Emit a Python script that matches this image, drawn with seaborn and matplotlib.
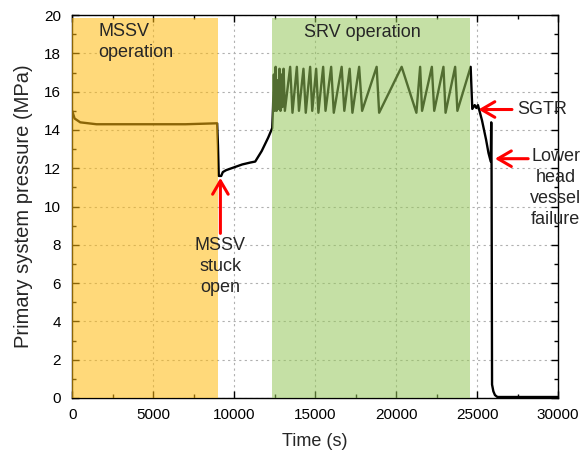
import numpy as np
import pandas as pd
import seaborn as sns
import matplotlib.pyplot as plt
from matplotlib.ticker import MultipleLocator

# Time (s) and primary system pressure (MPa)
time_s = [0, 150, 500, 1500, 5000, 7000, 8950, 9000, 9050, 9200, 9300, 9500,
          10000, 10500, 11000, 11300, 11700, 12100, 12350,
          # dense SRV cycling
          12400, 12450, 12500, 12560, 12620, 12680, 12740, 12800, 12860,
          12920, 12980, 13050, 13130,
          # SRV saw-tooth (peak, trough pairs)
          13457, 13600, 13870, 14000, 14278, 14420, 14691, 14820, 15062, 15200,
          15494, 15640, 15988, 16150, 16636, 16800, 17130, 17300, 17716, 17900,
          18796, 18950, 20340, 21250, 21481, 21600, 22204, 22350, 22920, 23050,
          23642, 23780, 24599,
          # after SRV: SGTR and vessel failure
          24700, 24850, 24950, 25050, 25300, 25550, 25700, 25840, 25870,
          25890, 25920, 26000, 26100, 26250, 30000]
pressure_mpa = [15.0, 14.6, 14.4, 14.3, 14.3, 14.3, 14.35, 13.2, 11.6, 11.6,
                11.8, 11.9, 12.05, 12.2, 12.3, 12.35, 12.9, 13.6, 14.1,
                15.2, 16.9, 15.0, 17.3, 15.0, 16.6, 15.1, 17.2, 15.0,
                16.9, 15.2, 17.2, 15.0,
                17.3, 14.9, 17.3, 15.0, 17.2, 14.9, 17.3, 15.0, 17.2, 14.9,
                17.3, 15.0, 17.3, 14.9, 17.3, 15.0, 17.2, 14.9, 17.3, 15.0,
                17.3, 14.9, 17.3, 14.9, 17.3, 15.0, 17.3, 15.0, 17.3, 14.9,
                17.3, 15.0, 17.3,
                15.1, 15.3, 15.15, 15.3, 14.5, 13.5, 12.8, 12.35, 14.4,
                12.0, 0.7, 0.35, 0.15, 0.05, 0.05]

df = pd.DataFrame({'Time (s)': time_s, 'Pressure (MPa)': pressure_mpa})

sns.set_style('ticks')
plt.rcParams['font.family'] = ['Liberation Sans', 'DejaVu Sans']

fig = plt.figure(figsize=(5.82, 4.59), dpi=100)
ax = fig.add_axes([0.124, 0.133, 0.835, 0.834])

sns.lineplot(data=df, x='Time (s)', y='Pressure (MPa)', color='black',
             linewidth=1.7, estimator=None, sort=False, ax=ax, zorder=2)

# operation bands drawn over the line so it shows through tinted
ax.axvspan(0, 9000, ymax=0.992, color='#FFBA0D', alpha=0.55, lw=0, zorder=3)
ax.axvspan(12350, 24550, ymax=0.992, color='#96C75B', alpha=0.55, lw=0, zorder=3)

ax.set_xlim(0, 30000)
ax.set_ylim(0, 20)
ax.xaxis.set_major_locator(MultipleLocator(5000))
ax.xaxis.set_minor_locator(MultipleLocator(2500))
ax.yaxis.set_major_locator(MultipleLocator(2))
ax.yaxis.set_minor_locator(MultipleLocator(1))
ax.tick_params(which='both', direction='in', top=True, right=True,
               labelsize=11, colors='black')
ax.tick_params(which='major', length=5, width=1)
ax.tick_params(which='minor', length=3, width=1)
ax.tick_params(axis='y', pad=8)
ax.tick_params(axis='x', pad=7)
ax.grid(True, which='major', color='#b0b0b0', linestyle=(0, (2, 3)), lw=0.8)
for s in ax.spines.values():
    s.set_visible(True)
    s.set_color('black')
    s.set_linewidth(1)

ax.set_xlabel('Time (s)', fontsize=13, labelpad=8)
ax.set_ylabel('Primary system pressure (MPa)', fontsize=14.5, labelpad=8)

ax.text(1600, 19.6, 'MSSV\noperation', fontsize=13, va='top', ha='left',
        linespacing=1.3, zorder=5)
ax.text(17900, 19.55, 'SRV operation', fontsize=13, va='top', ha='center',
        zorder=5)

arrow = dict(arrowstyle='->, head_length=0.6, head_width=0.35', color='red',
             lw=2.2, mutation_scale=16, shrinkA=0, shrinkB=0)
ax.annotate('', xy=(9150, 11.5), xytext=(9150, 8.6), arrowprops=arrow,
            zorder=6)
ax.text(9150, 8.4, 'MSSV\nstuck\nopen', fontsize=13, ha='center', va='top',
        linespacing=1.3, zorder=6)
ax.annotate('', xy=(25080, 15.07), xytext=(27150, 15.07), arrowprops=arrow,
            zorder=6)
ax.text(27450, 15.07, 'SGTR', fontsize=13, ha='left', va='center', zorder=6)
ax.annotate('', xy=(26100, 12.5), xytext=(28150, 12.5), arrowprops=arrow,
            zorder=6)
ax.text(29850, 13.05, 'Lower\nhead\nvessel\nfailure', fontsize=13,
        ha='center', va='top', linespacing=1.3, zorder=6, clip_on=False)

fig.savefig('out.png', dpi=100)
